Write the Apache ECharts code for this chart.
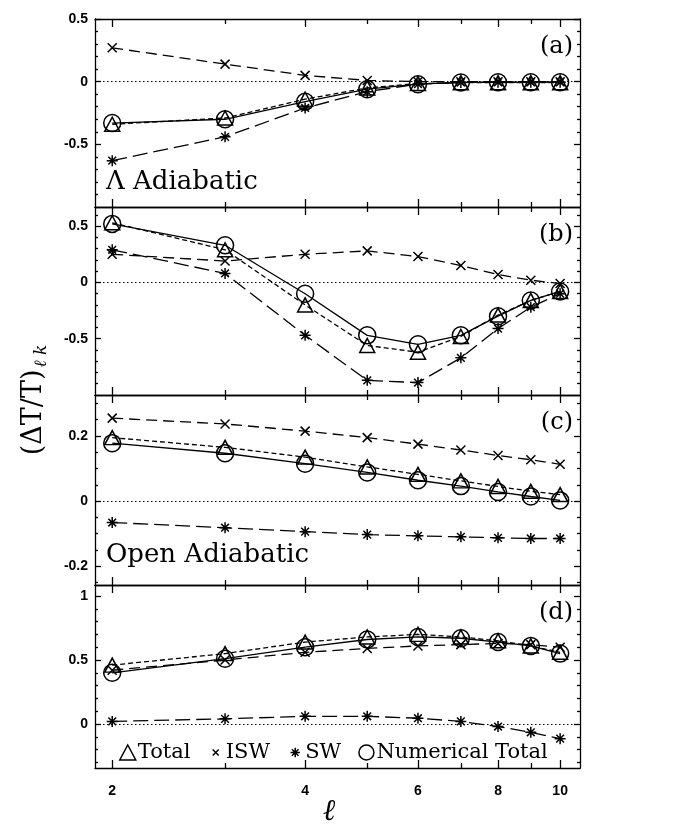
<!DOCTYPE html>
<html>
<head>
<meta charset="utf-8">
<script src="https://cdn.jsdelivr.net/npm/echarts@6/dist/echarts.min.js"></script>
<style>
html,body{margin:0;padding:0;background:#fff;}
#chart{width:681px;height:830px;}
</style>
</head>
<body>
<div id="chart"></div>
<script>
// ---------- data ----------
const ells = [2, 3, 4, 5, 6, 7, 8, 9, 10];

// (a) Lambda adiabatic
const totalA = [-0.34, -0.29, -0.14, -0.05, -0.015, -0.008, -0.008, -0.008, -0.008];
const iswA   = [0.27, 0.14, 0.05, 0.01, 0.0, 0.0, 0.0, 0.0, 0.0];
const swA    = [-0.63, -0.44, -0.21, -0.08, -0.02, -0.006, -0.004, -0.004, -0.004];
const numA   = [-0.33, -0.30, -0.16, -0.06, -0.02, -0.006, -0.004, -0.004, -0.004];

// (b)
const totalB = [0.53, 0.29, -0.20, -0.56, -0.62, -0.48, -0.29, -0.16, -0.08];
const iswB   = [0.25, 0.19, 0.25, 0.28, 0.23, 0.15, 0.07, 0.02, -0.01];
const swB    = [0.29, 0.08, -0.47, -0.87, -0.89, -0.67, -0.41, -0.22, -0.10];
const numB   = [0.52, 0.33, -0.10, -0.47, -0.55, -0.47, -0.30, -0.16, -0.08];

// (c) Open adiabatic
const totalC = [0.195, 0.165, 0.135, 0.105, 0.082, 0.062, 0.045, 0.030, 0.020];
const iswC   = [0.255, 0.237, 0.215, 0.195, 0.175, 0.157, 0.140, 0.127, 0.113];
const swC    = [-0.066, -0.082, -0.094, -0.103, -0.107, -0.110, -0.113, -0.115, -0.115];
const numC   = [0.178, 0.147, 0.115, 0.088, 0.064, 0.046, 0.028, 0.014, 0.002];

// (d)
const totalD = [0.46, 0.55, 0.64, 0.68, 0.70, 0.68, 0.65, 0.61, 0.56];
const iswD   = [0.42, 0.50, 0.56, 0.59, 0.61, 0.62, 0.63, 0.62, 0.60];
const swD    = [0.02, 0.04, 0.06, 0.06, 0.045, 0.02, -0.02, -0.065, -0.115];
const numD   = [0.40, 0.51, 0.60, 0.66, 0.68, 0.67, 0.64, 0.61, 0.55];

// ticks
const xLabels = [2, 4, 6, 8, 10];
const xMinorTicks = [3, 5, 7, 9];

const yLabelsA = [-0.5, 0, 0.5];
const yMinorA = [-0.9, -0.8, -0.7, -0.6, -0.4, -0.3, -0.2, -0.1, 0.1, 0.2, 0.3, 0.4];
const yLabelsB = [-0.5, 0, 0.5];
const yMinorB = [-0.9, -0.8, -0.7, -0.6, -0.4, -0.3, -0.2, -0.1, 0.1, 0.2, 0.3, 0.4, 0.6];
const yLabelsC = [-0.2, 0, 0.2];
const yMinorC = [-0.25, -0.15, -0.1, -0.05, 0.05, 0.1, 0.15, 0.25, 0.3];
const yLabelsD = [0, 0.5, 1];
const yMinorD = [-0.3, -0.2, -0.1, 0.1, 0.2, 0.3, 0.4, 0.6, 0.7, 0.8, 0.9];

const panelTags = ['(a)', '(b)', '(c)', '(d)'];
const seriesNames = ['Total', 'ISW', 'SW', 'Numerical Total'];

// ---------- layout / styles ----------
const X_MIN = 1.88, X_MAX = 10.74;
const LEFT = 95, RIGHT = 101;
const panels = [
  {top: 19,  height: 188, min: -1.0,   max: 0.5,   labels: yLabelsA, minor: yMinorA, vals: [totalA, iswA, swA, numA]},
  {top: 207, height: 188, min: -1.0,   max: 0.67,  labels: yLabelsB, minor: yMinorB, vals: [totalB, iswB, swB, numB]},
  {top: 395, height: 190, min: -0.258, max: 0.326, labels: yLabelsC, minor: yMinorC, vals: [totalC, iswC, swC, numC]},
  {top: 585, height: 183, min: -0.344, max: 1.086, labels: yLabelsD, minor: yMinorD, vals: [totalD, iswD, swD, numD]}
];

const BLK = '#000';
const axLine = {color: BLK, width: 1.3};
const SYM_X = 'path://M0,0L10,10M10,0L0,10';
const SYM_AST = 'path://M5,0L5,10M0,5L10,5M1.5,1.5L8.5,8.5M8.5,1.5L1.5,8.5';
// legend icons: same glyphs drawn smaller inside a padded box
const LEG_X = 'path://M-5,-5M15,15M1,1L9,9M9,1L1,9';
const LEG_AST = 'path://M-3,-3M13,13M5,0L5,10M0,5L10,5M1.5,1.5L8.5,8.5M8.5,1.5L1.5,8.5';
const seriesStyle = [
  {symbol: 'triangle', symbolSize: [15, 14], dash: [5, 3]},
  {symbol: SYM_X, symbolSize: 9, dash: [11, 6]},
  {symbol: SYM_AST, symbolSize: 11, dash: [15, 6]},
  {symbol: 'circle', symbolSize: 17, dash: 'solid'}
];

const grids = [], xAxes = [], yAxes = [], series = [];

panels.forEach((p, g) => {
  grids.push({left: LEFT, right: RIGHT, top: p.top, height: p.height});
  const isLast = g === panels.length - 1;
  const xBase = {
    type: 'log', logBase: 10, min: X_MIN, max: X_MAX, gridIndex: g,
    splitLine: {show: false}, minorTick: {show: false}, minorSplitLine: {show: false},
    axisLine: {show: true, onZero: false, lineStyle: axLine},
    axisLabel: {show: false}, axisTick: {show: false}
  };
  const xi = xAxes.length;
  xAxes.push(Object.assign({}, xBase, {
    position: 'bottom',
    axisTick: {show: true, inside: true, length: 8, customValues: xLabels, lineStyle: axLine},
    axisLabel: isLast ? {show: true, customValues: xLabels, color: BLK, fontWeight: 'bold',
      fontFamily: 'Liberation Sans', fontSize: 14, margin: 16} : {show: false}
  }));
  xAxes.push(Object.assign({}, xBase, {
    position: 'bottom', axisLine: {show: false, onZero: false},
    axisTick: {show: true, inside: true, length: 5, customValues: xMinorTicks, lineStyle: axLine}
  }));
  xAxes.push(Object.assign({}, xBase, {
    position: 'top',
    axisTick: {show: true, inside: true, length: 8, customValues: xLabels, lineStyle: axLine}
  }));
  xAxes.push(Object.assign({}, xBase, {
    position: 'top', axisLine: {show: false, onZero: false},
    axisTick: {show: true, inside: true, length: 5, customValues: xMinorTicks, lineStyle: axLine}
  }));

  const yBase = {
    type: 'value', gridIndex: g, min: p.min, max: p.max,
    splitLine: {show: false},
    axisLine: {show: true, onZero: false, lineStyle: axLine},
    axisLabel: {show: false}, axisTick: {show: false}
  };
  const yi = yAxes.length;
  yAxes.push(Object.assign({}, yBase, {
    position: 'left',
    axisTick: {show: true, inside: true, length: 6, customValues: p.labels, lineStyle: axLine},
    axisLabel: {show: true, customValues: p.labels, color: BLK, fontWeight: 'bold',
      fontFamily: 'Liberation Sans', fontSize: 14, margin: 7}
  }));
  yAxes.push(Object.assign({}, yBase, {
    position: 'left', axisLine: {show: false, onZero: false},
    axisTick: {show: true, inside: true, length: 3, customValues: p.minor, lineStyle: axLine}
  }));
  yAxes.push(Object.assign({}, yBase, {
    position: 'right',
    axisTick: {show: true, inside: true, length: 6, customValues: p.labels, lineStyle: axLine}
  }));
  yAxes.push(Object.assign({}, yBase, {
    position: 'right', axisLine: {show: false, onZero: false},
    axisTick: {show: true, inside: true, length: 3, customValues: p.minor, lineStyle: axLine}
  }));

  // dotted zero reference line
  series.push({
    type: 'line', xAxisIndex: xi, yAxisIndex: yi, data: [], silent: true,
    markLine: {silent: true, symbol: 'none', label: {show: false},
      lineStyle: {color: BLK, type: [1.5, 2.5], width: 1.2}, data: [{yAxis: 0}]}
  });

  p.vals.forEach((vals, k) => {
    const st = seriesStyle[k];
    series.push({
      name: seriesNames[k], type: 'line', xAxisIndex: xi, yAxisIndex: yi,
      data: ells.map((x, i) => [x, vals[i]]),
      symbol: st.symbol, symbolSize: st.symbolSize, symbolKeepAspect: true,
      showAllSymbol: true, animation: false, z: 3 + k,
      lineStyle: {color: BLK, width: 1.3, type: st.dash},
      itemStyle: {color: 'rgba(0,0,0,0)', borderColor: BLK, borderWidth: 1.5}
    });
  });
});

const serif = 'DejaVu Serif';
const graphics = [];
panels.forEach((p, g) => {
  graphics.push({type: 'text', right: 108, top: p.top + 16,
    style: {text: panelTags[g], font: '24px "' + serif + '"', fill: BLK}});
});
graphics.push({type: 'text', left: 106, top: 169,
  style: {text: 'Λ Adiabatic', font: '26px "' + serif + '"', fill: BLK}});
graphics.push({type: 'text', left: 106, top: 542,
  style: {text: 'Open Adiabatic', font: '26px "' + serif + '"', fill: BLK}});
graphics.push({type: 'text', x: 34, y: 400, rotation: Math.PI / 2,
  style: {text: '{a|(ΔT/T)}{s|ℓ k}', align: 'center', verticalAlign: 'middle', fill: BLK,
    rich: {a: {fontFamily: serif, fontSize: 27, lineHeight: 32, verticalAlign: 'middle'},
           s: {fontFamily: serif, fontSize: 17, fontStyle: 'italic', verticalAlign: 'bottom', padding: [15, 0, 0, 2]}}}});
// x-axis title
graphics.push({type: 'text', x: 329, y: 812,
  style: {text: 'ℓ', align: 'center', verticalAlign: 'middle', fill: BLK,
    font: 'italic 30px "' + serif + '"'}});

const chart = echarts.init(document.getElementById('chart'), null, {renderer: 'canvas'});
chart.setOption({
  backgroundColor: '#fff',
  animation: false,
  grid: grids,
  xAxis: xAxes,
  yAxis: yAxes,
  legend: {
    left: 114, top: 737, itemWidth: 16, itemHeight: 15, itemGap: 17,
    selectedMode: true,
    data: [
      {name: 'Total', icon: 'triangle'},
      {name: 'ISW', icon: LEG_X},
      {name: 'SW', icon: LEG_AST},
      {name: 'Numerical Total', icon: 'circle'}
    ],
    itemStyle: {color: 'rgba(0,0,0,0)', borderColor: BLK, borderWidth: 1.5},
    textStyle: {fontFamily: serif, fontSize: 21, color: BLK, padding: [0, 0, 0, -3]}
  },
  graphic: graphics,
  series: series
});
</script>
</body>
</html>
